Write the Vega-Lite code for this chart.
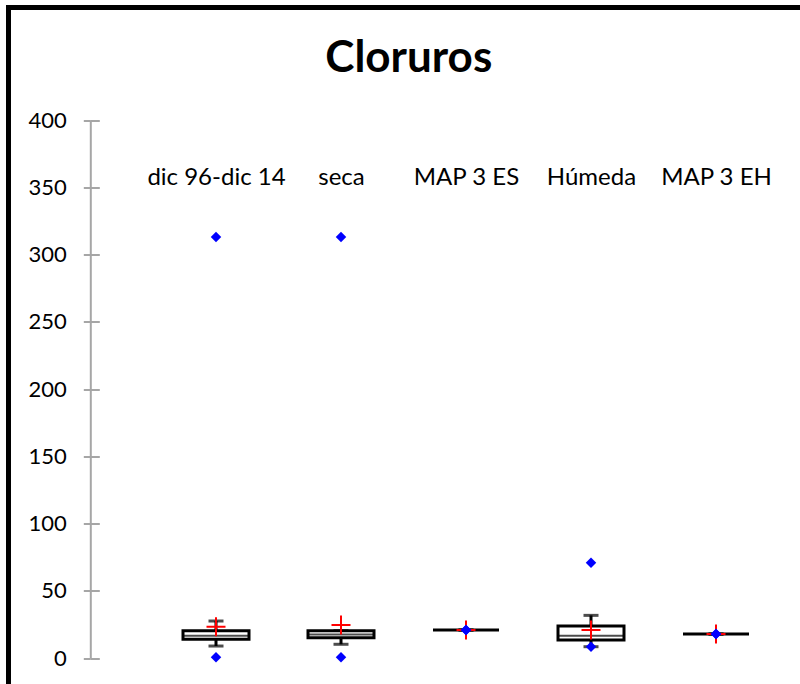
{
  "$schema": "https://vega.github.io/schema/vega-lite/v6.json",
  "autosize": {"type": "none"},
  "width": 794.5,
  "height": 690,
  "padding": {"left": 8.5, "top": 7.5, "right": -3, "bottom": -13.5},
  "background": "white",
  "title": {
    "text": "Cloruros",
    "font": "Lato",
    "fontSize": 44,
    "fontWeight": "bold",
    "color": "black",
    "anchor": "middle",
    "frame": "group",
    "orient": "top",
    "baseline": "alphabetic",
    "offset": -108.5,
    "dx": 3
  },
  "data": {
    "values": [
      {"cat": "dic 96-dic 14", "q1": 13.9, "median": 16.5, "q3": 20.3, "lo": 8.9, "hi": 27.5, "mean": 23.3, "min": 0.5, "max": 313.0},
      {"cat": "seca", "q1": 15.1, "median": 17.5, "q3": 20.3, "lo": 10.2, "hi": 20.3, "mean": 24.5, "min": 0.5, "max": 313.0},
      {"cat": "MAP 3 ES", "q1": 20.8, "median": 20.8, "q3": 20.8, "lo": 20.8, "hi": 20.8, "mean": 20.8, "min": 20.8, "max": 20.8},
      {"cat": "Húmeda", "q1": 13.4, "median": 16.6, "q3": 23.8, "lo": 8.4, "hi": 31.7, "mean": 20.8, "min": 8.4, "max": 70.9},
      {"cat": "MAP 3 EH", "q1": 17.8, "median": 17.8, "q3": 17.8, "lo": 17.8, "hi": 17.8, "mean": 17.8, "min": 17.8, "max": 17.8}
    ]
  },
  "encoding": {
    "x": {
      "field": "cat",
      "type": "nominal",
      "sort": null,
      "scale": {"type": "point", "domain": ["dic 96-dic 14", "seca", "MAP 3 ES", "Húmeda", "MAP 3 EH"], "range": [207.5, 707.5], "padding": 0},
      "axis": {
        "orient": "top",
        "offset": -181.5,
        "domain": false,
        "ticks": false,
        "tickSize": 0,
        "labelPadding": 0,
        "labelAngle": 0,
        "labelFont": "Lato",
        "labelFontSize": 24,
        "labelColor": "black",
        "title": null
      }
    }
  },
  "layer": [
    {
      "mark": {"type": "rule", "color": "black", "strokeWidth": 3},
      "encoding": {
        "y": {
          "field": "lo",
          "type": "quantitative",
          "scale": {"domain": [0, 400], "range": [650.5, 112.5], "nice": false, "zero": false},
          "axis": {
            "orient": "left",
            "offset": -81.8,
            "values": [0, 50, 100, 150, 200, 250, 300, 350, 400],
            "grid": false,
            "domainColor": "#a6a6a6",
            "domainWidth": 2,
            "tickColor": "#a6a6a6",
            "tickWidth": 2,
            "tickSize": 7,
            "labelPadding": 17,
            "labelFont": "Lato",
            "labelFontSize": 22,
            "labelColor": "black",
            "title": null
          }
        },
        "y2": {"field": "hi"}
      }
    },
    {
      "mark": {"type": "tick", "color": "black", "size": 15, "thickness": 3},
      "encoding": {
        "y": {"field": "lo", "type": "quantitative", "scale": {"domain": [0, 400], "range": [650.5, 112.5], "nice": false, "zero": false}, "axis": null}
      }
    },
    {
      "mark": {"type": "tick", "color": "black", "size": 15, "thickness": 3},
      "encoding": {
        "y": {"field": "hi", "type": "quantitative", "scale": {"domain": [0, 400], "range": [650.5, 112.5], "nice": false, "zero": false}, "axis": null}
      }
    },
    {
      "mark": {"type": "bar", "width": 66, "fill": "white", "stroke": "black", "strokeWidth": 3},
      "encoding": {
        "y": {"field": "q1", "type": "quantitative", "scale": {"domain": [0, 400], "range": [650.5, 112.5], "nice": false, "zero": false}, "axis": null},
        "y2": {"field": "q3"}
      }
    },
    {
      "mark": {"type": "tick", "color": "black", "size": 66, "thickness": 2},
      "encoding": {
        "y": {"field": "median", "type": "quantitative", "scale": {"domain": [0, 400], "range": [650.5, 112.5], "nice": false, "zero": false}, "axis": null}
      }
    },
    {
      "mark": {"type": "point", "shape": "M-1,0L1,0M0,-1L0,1", "filled": false, "stroke": "#ff0000", "strokeWidth": 2, "size": 361, "opacity": 1},
      "encoding": {
        "y": {"field": "mean", "type": "quantitative", "scale": {"domain": [0, 400], "range": [650.5, 112.5], "nice": false, "zero": false}, "axis": null}
      }
    },
    {
      "mark": {"type": "point", "shape": "diamond", "filled": true, "color": "#0000ff", "size": 110, "opacity": 1},
      "encoding": {
        "y": {"field": "min", "type": "quantitative", "scale": {"domain": [0, 400], "range": [650.5, 112.5], "nice": false, "zero": false}, "axis": null}
      }
    },
    {
      "mark": {"type": "point", "shape": "diamond", "filled": true, "color": "#0000ff", "size": 110, "opacity": 1},
      "encoding": {
        "y": {
          "field": "max",
          "type": "quantitative",
          "scale": {"domain": [0, 400], "range": [650.5, 112.5], "nice": false, "zero": false},
          "axis": {
            "orient": "right",
            "offset": -712.7,
            "values": [0, 50, 100, 150, 200, 250, 300, 350, 400],
            "grid": false,
            "domain": false,
            "labels": false,
            "tickColor": "#a6a6a6",
            "tickWidth": 2,
            "tickSize": 9,
            "title": null
          }
        }
      }
    }
  ],
  "resolve": {"axis": {"y": "independent"}},
  "config": {
    "view": {"stroke": "black", "strokeWidth": 5}
  }
}
